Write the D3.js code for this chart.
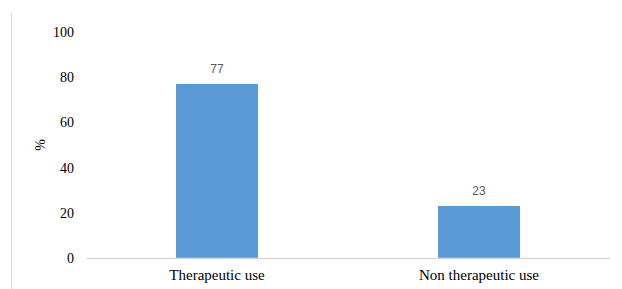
<!DOCTYPE html>
<html><head><meta charset="utf-8">
<script src="https://cdn.jsdelivr.net/npm/d3@7"></script>
<style>body{margin:0;background:#fff}svg{display:block}</style>
</head><body>
<svg id="c" width="622" height="289"></svg>
<script>
const categories = ["Therapeutic use", "Non therapeutic use"];
const values = [77, 23];
const yTicks = [0, 20, 40, 60, 80, 100];

const SERIF = "'Liberation Serif', 'Times New Roman', serif";
const svg = d3.select("#c");
const x = d3.scaleBand().domain(categories).range([86, 610]).padding(0);
const y = d3.scaleLinear().domain([0, 100]).range([258, 32]);
const barW = x.bandwidth() * 0.313;

svg.append("line").attr("x1", 11.5).attr("x2", 11.5).attr("y1", 13).attr("y2", 289)
  .attr("stroke", "#d9d9d9").attr("stroke-width", 1);

const yAxis = d3.axisLeft(y).tickValues(yTicks).tickSize(0).tickPadding(0);
const gy = svg.append("g").attr("transform", "translate(74,0)").call(yAxis);
gy.attr("font-family", null);
gy.select(".domain").remove();
gy.selectAll("text").style("font-family", SERIF)
  .attr("font-size", 14).attr("fill", "#000");

svg.selectAll("rect.bar").data(values).enter().append("rect")
  .attr("x", (d, i) => x(categories[i]) + x.bandwidth() / 2 - barW / 2)
  .attr("width", barW)
  .attr("y", d => y(d))
  .attr("height", d => y(0) - y(d))
  .attr("fill", "#5B9BD5");

const xAxis = d3.axisBottom(x).tickSize(0).tickPadding(11);
const gx = svg.append("g").attr("transform", `translate(0,${y(0)})`).call(xAxis);
gx.attr("font-family", null);
gx.select(".domain").attr("stroke", "#d9d9d9").attr("stroke-width", 1.5);
gx.selectAll("text").style("font-family", SERIF)
  .attr("font-size", 15).attr("fill", "#000");

svg.selectAll("text.lbl").data(values).enter().append("text")
  .attr("x", (d, i) => x(categories[i]) + x.bandwidth() / 2)
  .attr("y", d => y(d) - 11)
  .attr("text-anchor", "middle")
  .style("font-family", "'Liberation Sans', Arial, sans-serif")
  .attr("font-size", 12).attr("fill", "#595959")
  .text(d => d);

svg.append("text").attr("transform", "translate(45,145) rotate(-90)")
  .attr("text-anchor", "middle")
  .style("font-family", SERIF)
  .attr("font-size", 14).attr("fill", "#000").text("%");
</script>
</body></html>
